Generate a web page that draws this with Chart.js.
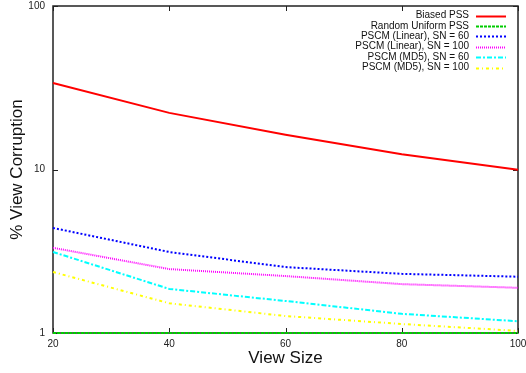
<!DOCTYPE html>
<html><head><meta charset="utf-8">
<script src="https://cdn.jsdelivr.net/npm/chart.js@4.4.0/dist/chart.umd.min.js"></script>
<style>html,body{margin:0;padding:0;background:#fff}#w{width:526px;height:373px}</style>
</head><body><div id="w"><canvas id="c" width="526" height="373"></canvas></div>
<script>
const viewSizes = [20, 40, 60, 80, 100];
const biasedPSS = [33.8, 22.2, 16.3, 12.4, 9.95];
const randomUniformPSS = [1, 1, 1, 1, 1];
const linear60 = [4.39, 3.13, 2.53, 2.30, 2.21];
const linear100 = [3.32, 2.46, 2.23, 1.99, 1.89];
const md5_60 = [3.13, 1.86, 1.57, 1.31, 1.18];
const md5_100 = [2.36, 1.52, 1.27, 1.135, 1.03];
const yTicks = [1, 10, 100];
const xTicks = [20, 40, 60, 80, 100];

const FONT = "'Liberation Sans', Arial, Helvetica, sans-serif";

function ds(label, data, color, dash) {
  return { label, data: data.map((v, i) => ({x: viewSizes[i], y: v})), borderColor: color, backgroundColor: color,
    borderWidth: 2, borderDash: dash, pointRadius: 0, fill: false, tension: 0, clip: false };
}

function zeroPad(s) { s.paddingTop = 0; s.paddingBottom = 0; s.paddingLeft = 0; s.paddingRight = 0; }

const framePlugin = {
  id: 'frame',
  beforeDatasetsDraw(chart) {
    const {ctx, chartArea: a, scales} = chart;
    ctx.save();
    ctx.strokeStyle = '#222';
    ctx.lineWidth = 1.5;
    ctx.strokeRect(a.left, a.top, a.right - a.left, a.bottom - a.top);
    ctx.lineWidth = 1;
    ctx.beginPath();
    xTicks.forEach(v => {
      const px = Math.round(scales.x.getPixelForValue(v)) + 0.5;
      ctx.moveTo(px, a.bottom); ctx.lineTo(px, a.bottom - 5);
      ctx.moveTo(px, a.top); ctx.lineTo(px, a.top + 5);
    });
    yTicks.forEach(v => {
      const py = Math.round(scales.y.getPixelForValue(v)) + 0.5;
      ctx.moveTo(a.left, py); ctx.lineTo(a.left + 5, py);
      ctx.moveTo(a.right, py); ctx.lineTo(a.right - 5, py);
    });
    ctx.stroke();
    ctx.restore();
  },
  afterDraw(chart) {
    const {ctx} = chart;
    ctx.save();
    ctx.font = '10px ' + FONT;
    ctx.textAlign = 'right';
    ctx.textBaseline = 'middle';
    chart.data.datasets.forEach((d, i) => {
      const y = 15.5 + i * 10.4;
      ctx.fillStyle = '#111';
      ctx.fillText(d.label, 469, y);
      ctx.strokeStyle = d.borderColor;
      ctx.lineWidth = d.borderWidth;
      ctx.setLineDash(d.borderDash || []);
      ctx.beginPath();
      ctx.moveTo(476, Math.round(y) + 0.5);
      ctx.lineTo(506, Math.round(y) + 0.5);
      ctx.stroke();
    });
    ctx.restore();
  }
};

new Chart(document.getElementById('c'), {
  type: 'line',
  data: {
    datasets: [
      ds('Biased PSS', biasedPSS, '#ff0000', []),
      ds('Random Uniform PSS', randomUniformPSS, '#00cc00', [3, 1]),
      ds('PSCM (Linear), SN = 60', linear60, '#0000ff', [2, 2]),
      ds('PSCM (Linear), SN = 100', linear100, '#ff00ff', [1, 1]),
      ds('PSCM (MD5), SN = 60', md5_60, '#00ffff', [5, 2, 2, 2]),
      ds('PSCM (MD5), SN = 100', md5_100, '#ffff00', [3, 3, 1, 3])
    ]
  },
  options: {
    responsive: false,
    animation: false,
    events: [],
    layout: { autoPadding: false, padding: { top: 6, right: 8, left: 0, bottom: 0 } },
    plugins: { legend: { display: false }, tooltip: { enabled: false } },
    scales: {
      x: {
        type: 'linear', min: 20, max: 100,
        afterBuildTicks: s => { s.ticks = xTicks.map(v => ({value: v})); },
        afterFit: s => { s.height = 40; zeroPad(s); },
        grid: { display: false, drawTicks: false },
        border: { display: false },
        ticks: { font: { size: 10, family: FONT }, color: '#222', padding: 5, maxRotation: 0 },
        title: { display: true, text: 'View Size', font: { size: 17, family: FONT }, color: '#111', padding: { top: 0, bottom: 4 } }
      },
      y: {
        type: 'logarithmic', min: 1, max: 100,
        afterBuildTicks: s => { s.ticks = yTicks.map(v => ({value: v})); },
        afterFit: s => { s.width = 53; zeroPad(s); },
        grid: { display: false, drawTicks: false },
        border: { display: false },
        ticks: { font: { size: 10, family: FONT }, color: '#222', padding: 8, callback: v => String(v) },
        title: { display: true, text: '% View Corruption', font: { size: 17, family: FONT }, color: '#111', padding: { top: 7, bottom: 0 } }
      }
    }
  },
  plugins: [framePlugin]
});
</script>
</body></html>
